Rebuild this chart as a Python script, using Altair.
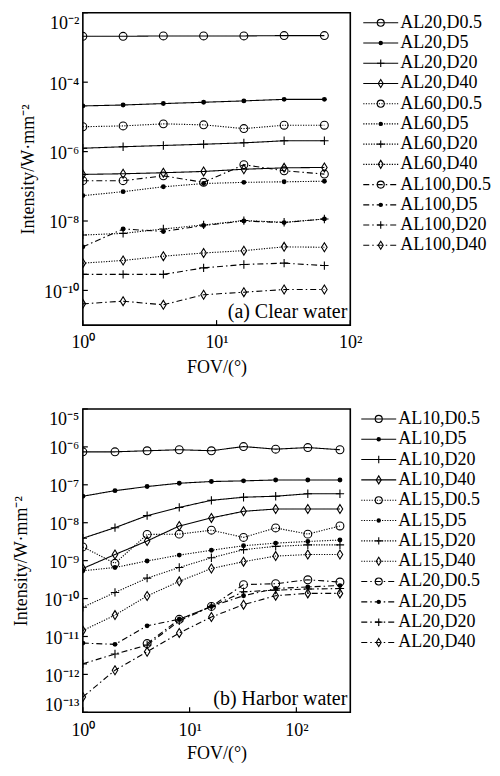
import math
import altair as alt
import pandas as pd

FONT = "Liberation Serif"

# ---------------- panel (a): Clear water ----------------
fov_a = [1, 2, 4, 8, 16, 32, 64]
names_a = ["AL20,D0.5", "AL20,D5", "AL20,D20", "AL20,D40",
           "AL60,D0.5", "AL60,D5", "AL60,D20", "AL60,D40",
           "AL100,D0.5", "AL100,D5", "AL100,D20", "AL100,D40"]
a_al20_d05 = [2.1e-3, 2.1e-3, 2.15e-3, 2.15e-3, 2.15e-3, 2.2e-3, 2.2e-3]
a_al20_d5 = [2.07e-5, 2.2e-5, 2.42e-5, 2.64e-5, 2.89e-5, 3.2e-5, 3.2e-5]
a_al20_d20 = [1.25e-6, 1.38e-6, 1.5e-6, 1.63e-6, 1.79e-6, 2.05e-6, 2.05e-6]
a_al20_d40 = [2.2e-7, 2.3e-7, 2.46e-7, 2.68e-7, 3.1e-7, 3.4e-7, 3.5e-7]
a_al60_d05 = [5.2e-6, 5.5e-6, 6.3e-6, 5.9e-6, 4.6e-6, 5.75e-6, 5.75e-6]
a_al60_d5 = [5.4e-8, 7.0e-8, 9.7e-8, 1.2e-7, 1.3e-7, 1.35e-7, 1.4e-7]
a_al60_d20 = [3.95e-9, 4.4e-9, 5.9e-9, 7.7e-9, 1.03e-8, 9.2e-9, 1.14e-8]
a_al60_d40 = [6.1e-10, 7.3e-10, 9.7e-10, 1.2e-9, 1.4e-9, 1.8e-9, 1.75e-9]
a_al100_d05 = [1.45e-7, 1.45e-7, 2.0e-7, 1.3e-7, 4.2e-7, 2.8e-7, 2.25e-7]
a_al100_d5 = [1.8e-9, 5.9e-9, 5.0e-9, 7.4e-9, 1.0e-8, 9.0e-9, 1.15e-8]
a_al100_d20 = [2.9e-10, 2.9e-10, 2.9e-10, 4.45e-10, 5.6e-10, 6.1e-10, 5.2e-10]
a_al100_d40 = [4.1e-11, 4.9e-11, 3.85e-11, 7.5e-11, 8.9e-11, 1.06e-10, 1.06e-10]
series_a = [a_al20_d05, a_al20_d5, a_al20_d20, a_al20_d40,
            a_al60_d05, a_al60_d5, a_al60_d20, a_al60_d40,
            a_al100_d05, a_al100_d5, a_al100_d20, a_al100_d40]

# ---------------- panel (b): Harbor water ----------------
fov_b = [1, 2, 4, 8, 16, 32, 64, 128, 256]
names_b = ["AL10,D0.5", "AL10,D5", "AL10,D20", "AL10,D40",
           "AL15,D0.5", "AL15,D5", "AL15,D20", "AL15,D40",
           "AL20,D0.5", "AL20,D5", "AL20,D20", "AL20,D40"]
b_al10_d05 = [7.4e-7, 7.4e-7, 7.9e-7, 8.4e-7, 7.9e-7, 1.02e-6, 8.7e-7, 9.6e-7, 8.4e-7]
b_al10_d5 = [5.0e-8, 7.0e-8, 9.0e-8, 1.1e-7, 1.22e-7, 1.27e-7, 1.34e-7, 1.34e-7, 1.34e-7]
b_al10_d20 = [3.9e-9, 7.4e-9, 1.54e-8, 2.53e-8, 3.9e-8, 4.7e-8, 5.0e-8, 5.8e-8, 5.8e-8]
b_al10_d40 = [6.2e-10, 1.45e-9, 3.3e-9, 8.2e-9, 1.34e-8, 2.0e-8, 2.3e-8, 2.3e-8, 2.3e-8]
b_al15_d05 = [2.3e-9, 8.5e-10, 4.9e-9, 5.0e-9, 6.35e-9, 4.1e-9, 7.3e-9, 5.0e-9, 8.2e-9]
b_al15_d5 = [5.4e-10, 6.6e-10, 9.8e-10, 1.4e-9, 1.88e-9, 2.47e-9, 2.9e-9, 3.2e-9, 3.5e-9]
b_al15_d20 = [5.9e-11, 1.45e-10, 3.45e-10, 6.6e-10, 1.19e-9, 1.95e-9, 2.38e-9, 2.6e-9, 2.6e-9]
b_al15_d40 = [1.43e-11, 3.66e-11, 1.17e-10, 2.84e-10, 6.2e-10, 9.4e-10, 1.32e-9, 1.45e-9, 1.45e-9]
b_al20_d05 = [None, None, 6.5e-12, 2.84e-11, 6.2e-11, 2.33e-10, 2.46e-10, 3.13e-10, 2.73e-10]
b_al20_d5 = [6.7e-12, 6.2e-12, 1.91e-11, 2.84e-11, 6.2e-11, 1.19e-10, 1.84e-10, 2.03e-10, 2.2e-10]
b_al20_d20 = [1.9e-12, 3.45e-12, 5.9e-12, 2.57e-11, 6.2e-11, 1.51e-10, 1.67e-10, 1.78e-10, 1.84e-10]
b_al20_d40 = [2.53e-13, 1.29e-12, 3.95e-12, 1.24e-11, 3.26e-11, 6.9e-11, 1.19e-10, 1.37e-10, 1.37e-10]
series_b = [b_al10_d05, b_al10_d5, b_al10_d20, b_al10_d40,
            b_al15_d05, b_al15_d5, b_al15_d20, b_al15_d40,
            b_al20_d05, b_al20_d5, b_al20_d20, b_al20_d40]

# ---------------- axes / text ----------------
xdomain_a = [1, 100]
ydomain_a = [1e-11, 1e-2]
xticks_a = [1, 10, 100]
yticks_a = [1e-2, 1e-4, 1e-6, 1e-8, 1e-10]
xdomain_b = [1, 320]
ydomain_b = [1e-13, 1e-5]
xticks_b = [1, 10, 100]
yticks_b = [1e-5, 1e-6, 1e-7, 1e-8, 1e-9, 1e-10, 1e-11, 1e-12, 1e-13]
title_y = "Intensity/W·mm⁻²"
title_x = "FOV/(°)"
note_a = "(a)  Clear  water"
note_b = "(b)  Harbor  water"

# ---------------- styles ----------------
PLUS = "M-1,0L1,0M0,-1L0,1"
DIAMOND = "M0,-1L0.62,0L0,1L-0.62,0Z"
depth_style = {
    "D0.5": dict(shape="circle", filled=False, size=62),
    "D5": dict(shape="circle", filled=True, size=24),
    "D20": dict(shape=PLUS, filled=False, size=70),
    "D40": dict(shape=DIAMOND, filled=False, size=80),
}
group_dash = [[1, 0], [1.2, 1.4], [6, 3, 1.5, 3]]

SUP = str.maketrans("-0123456789", "⁻⁰¹²³⁴⁵⁶⁷⁸⁹")


def label_expr(ticks):
    expr = "''"
    for t in ticks:
        e = round(math.log10(t))
        expr = (f"abs(log(datum.value)/LN10 - ({e})) < 0.01 ? "
                f"'10{str(e).translate(SUP)}' : " + expr)
    return expr


def dash_enc(f, names):
    return alt.StrokeDash(f"{f}:N", scale=alt.Scale(
        domain=names, range=[group_dash[i // 4] for i in range(len(names))]), legend=None)


def point_layers(base, f, names, x, y, scale=1.0, clip=True):
    layers = []
    for d, st in depth_style.items():
        members = [n for n in names if n.split(",")[1] == d]
        layers.append(
            base.transform_filter(alt.FieldOneOfPredicate(field=f, oneOf=members))
            .mark_point(shape=st["shape"], filled=st["filled"], size=st["size"] * scale,
                        color="black", strokeWidth=1.1, opacity=1, clip=clip)
            .encode(x=x, y=y))
    return layers


def panel(f, fov, names, series, xdom, ydom, xt, yt, w, h, note, tpad, lg_top, lg_bot, lg_gap,
          xlpad, xtpad):
    rows = []
    for n, vals in zip(names, series):
        for x, v in zip(fov, vals):
            rows.append({f: n, "x": x, "v": v})
    df = pd.DataFrame(rows)
    xs = alt.Scale(type="log", domain=xdom, nice=False, padding=0)
    ys = alt.Scale(type="log", domain=ydom, nice=False, padding=0)
    xax = alt.Axis(values=xt, labelExpr=label_expr(xt), ticks=False, grid=False, domain=False,
                   labelFont=FONT, labelFontSize=18, labelColor="black", labelPadding=xlpad,
                   labelFlush=False, labelOverlap=False,
                   title=title_x, titleFont=FONT, titleFontSize=18, titleFontWeight="normal",
                   titleColor="black", titlePadding=xtpad)
    yax = alt.Axis(values=yt, labelExpr=label_expr(yt), ticks=False, grid=False, domain=False,
                   labelFont=FONT, labelFontSize=18, labelColor="black", labelPadding=4,
                   labelFlush=True, labelOverlap=False, labelOffset=2,
                   title=title_y, titleFont=FONT, titleFontSize=18, titleFontWeight="normal",
                   titleColor="black", titlePadding=tpad)

    def X(fl):
        return alt.X(f"{fl}:Q", scale=xs, axis=xax)

    def Y(fl):
        return alt.Y(f"{fl}:Q", scale=ys, axis=yax)

    base = alt.Chart(df)
    lines = base.mark_line(color="black", strokeWidth=1.1, clip=True).encode(
        x=X("x"), y=Y("v"), detail=f"{f}:N", strokeDash=dash_enc(f, names))
    pts = point_layers(base, f, names, X("x"), Y("v"))
    ytk = alt.Chart(pd.DataFrame({"t": yt})).mark_rule(color="black", strokeWidth=1.2).encode(
        y=Y("t"), x=alt.value(0), x2=alt.value(5))
    xtk = alt.Chart(pd.DataFrame({"t": xt})).mark_rule(color="black", strokeWidth=1.2).encode(
        x=X("t"), y=alt.value(h), y2=alt.value(h - 5))
    txt = alt.Chart(pd.DataFrame({"t": [note]})).mark_text(
        font=FONT, fontSize=20, align="right", baseline="alphabetic", color="black").encode(
        text="t:N", x=alt.value(w - 3), y=alt.value(h - 7))
    plot = alt.layer(lines, *pts, ytk, xtk, txt)

    # legend drawn beside the plot, on its own point scale
    ly = alt.Y(f"{f}:N", scale=alt.Scale(type="point", domain=names, range=[lg_top, lg_bot], padding=0),
               axis=None)
    lbase = alt.Chart(pd.DataFrame({f: names}))
    x0 = w + lg_gap
    lr = lbase.mark_rule(color="black", strokeWidth=1.1).encode(
        y=ly, x=alt.value(x0), x2=alt.value(x0 + 35), strokeDash=dash_enc(f, names))
    lp = point_layers(lbase, f, names, alt.value(x0 + 17.5), ly, scale=0.8, clip=False)
    lt = lbase.mark_text(font=FONT, fontSize=18, align="left", baseline="middle", color="black").encode(
        y=ly, x=alt.value(x0 + 37), text=f"{f}:N")
    leg = alt.layer(lr, *lp, lt)

    return alt.layer(plot, leg).resolve_scale(y="independent").properties(
        width=w, height=h, view=alt.ViewBackground(stroke="black", strokeWidth=1.6, fill="white"))


panel_a = panel("sa", fov_a, names_a, series_a, xdomain_a, ydomain_a, xticks_a, yticks_a,
                268, 313, note_a, 6, 10, 233, 13, 8, 7)
panel_b = panel("sb", fov_b, names_b, series_b, xdomain_b, ydomain_b, xticks_b, yticks_b,
                268, 304, note_b, 13, 10, 234, 11, 9, 5)

chart = alt.vconcat(panel_a, panel_b, spacing=30).properties(
    padding={"left": 3, "top": 2, "right": 0, "bottom": 0}
).resolve_scale(strokeDash="independent").configure(background="white")

chart.save("out.html", embed_options={"renderer": "svg", "actions": False})
